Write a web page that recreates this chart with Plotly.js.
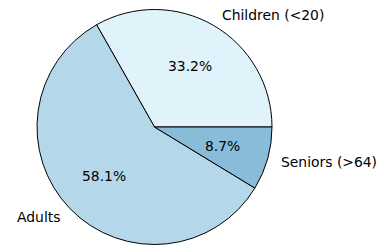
<!DOCTYPE html>
<html>
<head>
<meta charset="utf-8">
<script src="https://cdn.plot.ly/plotly-3.0.1.min.js"></script>
<style>html,body{margin:0;padding:0;background:#fff;}#chart{width:385px;height:247px;}</style>
</head>
<body>
<div id="chart"></div>
<script>
const labels = ['Children (<20)', 'Adults', 'Seniors (>64)'];
const values = [33.2, 58.1, 8.7];
const colors = ['#e0f3fb', '#b4d8ea', '#88bcd9'];

const W = 385, H = 247;
const cx = 154.5, cy = 127, R = 117.5;
const FONT = {family: 'DejaVu Sans', size: 13.9, color: '#000'};

const total = values.reduce((a, b) => a + b, 0);
const annotations = [];
let start = 0;
values.forEach((v, i) => {
  const frac = v / total;
  const mid = (start + frac / 2) * 2 * Math.PI;
  start += frac;
  const ux = Math.cos(mid), uy = Math.sin(mid);
  const lx = cx + 1.1 * R * ux, ly = cy - 1.1 * R * uy;
  annotations.push({
    text: labels[i], xref: 'paper', yref: 'paper',
    x: lx / W, y: 1 - ly / H, showarrow: false,
    xanchor: ux >= 0 ? 'left' : 'right', yanchor: 'middle',
    font: FONT
  });
  const px = cx + 0.6 * R * ux, py = cy - 0.6 * R * uy;
  annotations.push({
    text: (frac * 100).toFixed(1) + '%', xref: 'paper', yref: 'paper',
    x: px / W, y: 1 - py / H, showarrow: false,
    xanchor: 'center', yanchor: 'middle',
    font: FONT
  });
});

// Plotly (counterclockwise): first slice ends at 'rotation' (degrees clockwise from 12 o'clock).
// We want the first slice to start at 3 o'clock and run counterclockwise.
const rotation = 90 - values[0] / total * 360;

const trace = {
  type: 'pie',
  labels: labels,
  values: values,
  sort: false,
  direction: 'counterclockwise',
  rotation: rotation,
  textinfo: 'none',
  hoverinfo: 'none',
  marker: {colors: colors, line: {color: '#000', width: 1}},
  domain: {x: [(cx - R) / W, (cx + R) / W], y: [1 - (cy + R) / H, 1 - (cy - R) / H]}
};

Plotly.newPlot('chart', [trace], {
  width: W, height: H,
  margin: {l: 0, r: 0, t: 0, b: 0},
  showlegend: false,
  paper_bgcolor: '#fff',
  annotations: annotations
}, {displayModeBar: false, staticPlot: true});
</script>
</body>
</html>
